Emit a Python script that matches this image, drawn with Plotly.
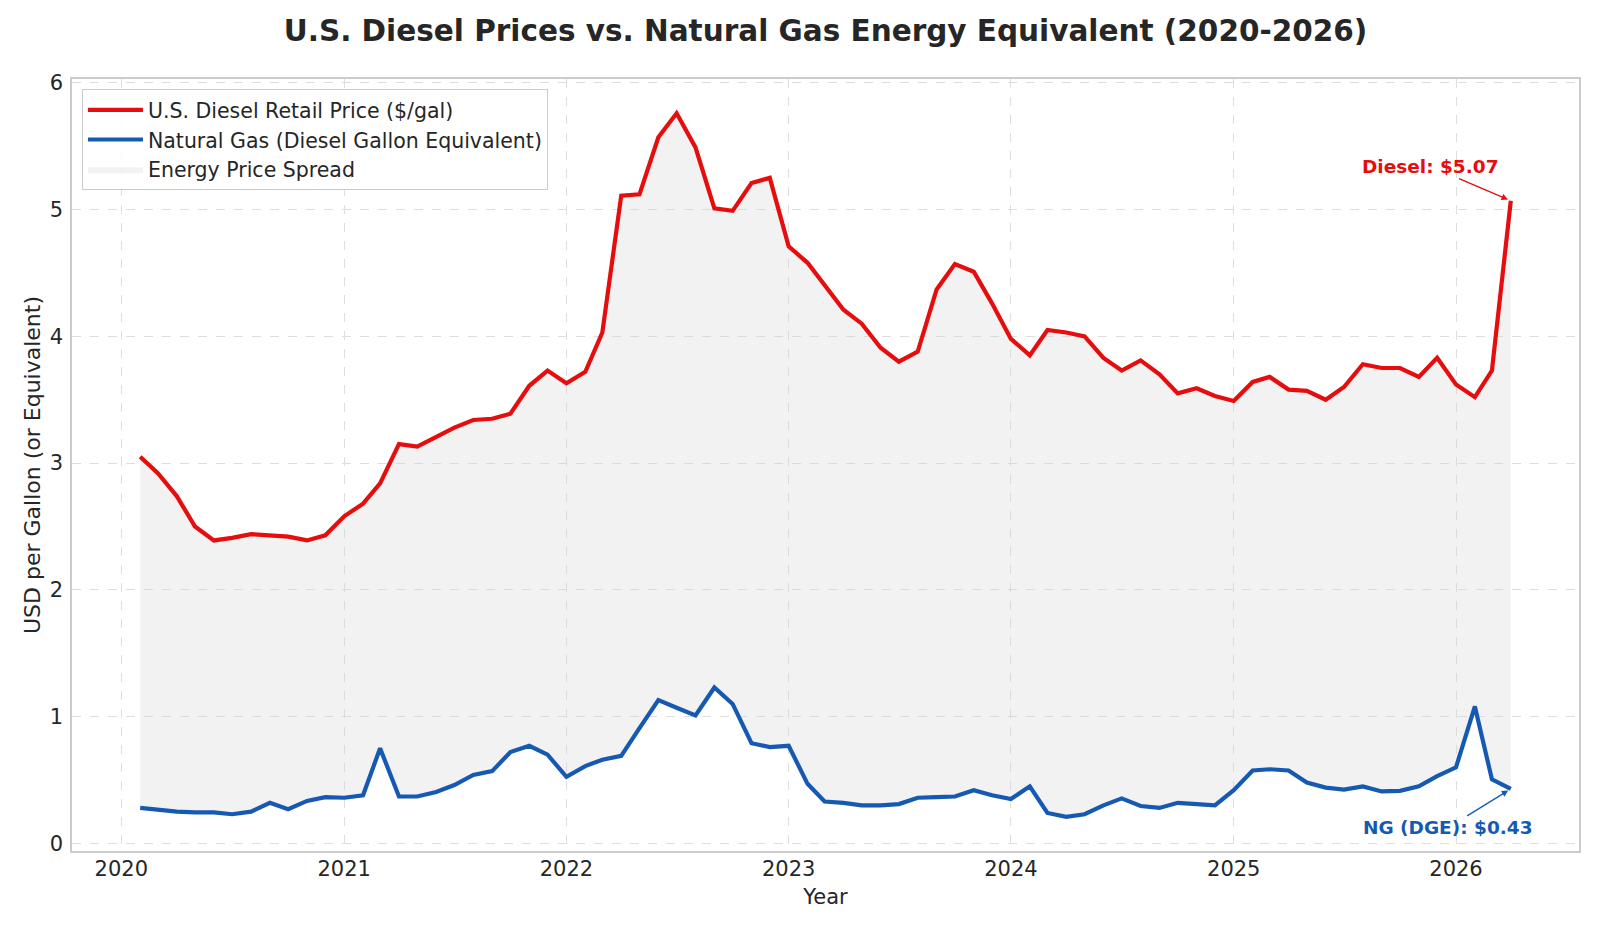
import plotly.graph_objects as go

# Monthly observations (first of month), Feb 2020 - Apr 2026
months = [
    "2020-02", "2020-03", "2020-04", "2020-05", "2020-06", "2020-07", "2020-08", "2020-09", "2020-10", "2020-11", "2020-12",
    "2021-01", "2021-02", "2021-03", "2021-04", "2021-05", "2021-06", "2021-07", "2021-08", "2021-09", "2021-10", "2021-11", "2021-12",
    "2022-01", "2022-02", "2022-03", "2022-04", "2022-05", "2022-06", "2022-07", "2022-08", "2022-09", "2022-10", "2022-11", "2022-12",
    "2023-01", "2023-02", "2023-03", "2023-04", "2023-05", "2023-06", "2023-07", "2023-08", "2023-09", "2023-10", "2023-11", "2023-12",
    "2024-01", "2024-02", "2024-03", "2024-04", "2024-05", "2024-06", "2024-07", "2024-08", "2024-09", "2024-10", "2024-11", "2024-12",
    "2025-01", "2025-02", "2025-03", "2025-04", "2025-05", "2025-06", "2025-07", "2025-08", "2025-09", "2025-10", "2025-11", "2025-12",
    "2026-01", "2026-02", "2026-03", "2026-04",
]

diesel = [
    3.05, 2.92, 2.74, 2.50, 2.39, 2.41, 2.44, 2.43, 2.42, 2.39, 2.43,
    2.58, 2.68, 2.84, 3.15, 3.13, 3.21, 3.28, 3.34, 3.35, 3.39, 3.61, 3.73,
    3.63, 3.72, 4.03, 5.11, 5.12, 5.57, 5.76, 5.49, 5.01, 4.99, 5.21, 5.25,
    4.71, 4.58, 4.41, 4.21, 4.10, 3.91, 3.80, 3.88, 4.37, 4.57, 4.51, 4.26,
    3.98, 3.85, 4.05, 4.03, 4.00, 3.83, 3.73, 3.81, 3.70, 3.55, 3.59, 3.53,
    3.49, 3.64, 3.68, 3.58, 3.57, 3.50, 3.60, 3.78, 3.75, 3.75, 3.68, 3.83,
    3.62, 3.52, 3.73, 5.07,
]

natgas_dge = [
    0.28, 0.265, 0.25, 0.245, 0.245, 0.23, 0.25, 0.32, 0.27, 0.335, 0.365,
    0.36, 0.38, 0.75, 0.37, 0.37, 0.405, 0.46, 0.54, 0.57, 0.72, 0.77, 0.70,
    0.525, 0.61, 0.66, 0.69, 0.91, 1.13, 1.07, 1.01, 1.23, 1.10, 0.79, 0.76,
    0.77, 0.47, 0.33, 0.32, 0.30, 0.30, 0.31, 0.36, 0.365, 0.37, 0.42, 0.38,
    0.35, 0.45, 0.24, 0.21, 0.23, 0.30, 0.355, 0.295, 0.28, 0.32, 0.31, 0.30,
    0.42, 0.575, 0.585, 0.575, 0.48, 0.44, 0.425, 0.45, 0.41, 0.415, 0.45, 0.53,
    0.60, 1.08, 0.505, 0.43,
]

year_ticks = ["2020", "2021", "2022", "2023", "2024", "2025", "2026"]

x = [m + "-01" for m in months]

RED = "#e50d0d"
BLUE = "#1659b3"
FONT = "DejaVu Sans"
TXT = "#262626"

fig = go.Figure()

# base for the fill (invisible)
fig.add_trace(go.Scatter(x=x, y=natgas_dge, mode="lines", line=dict(width=0, color="rgba(0,0,0,0)"),
                         showlegend=False, hoverinfo="skip"))
fig.add_trace(go.Scatter(x=x, y=diesel, mode="lines", line=dict(width=0, color="rgba(0,0,0,0)"),
                         fill="tonexty", fillcolor="rgba(211,211,211,0.3)",
                         name="Energy Price Spread", legendrank=3))
fig.add_trace(go.Scatter(x=x, y=diesel, mode="lines", line=dict(width=4.2, color=RED),
                         name="U.S. Diesel Retail Price ($/gal)", legendrank=1))
fig.add_trace(go.Scatter(x=x, y=natgas_dge, mode="lines", line=dict(width=4.2, color=BLUE),
                         name="Natural Gas (Diesel Gallon Equivalent)", legendrank=2))

fig.add_annotation(x=x[-1], y=diesel[-1], text=f"<b>Diesel: ${diesel[-1]:.2f}</b>",
                   showarrow=True, ax=-80, ay=-34, arrowhead=2, arrowsize=1, arrowwidth=1.3,
                   arrowcolor=RED, standoff=3, font=dict(family=FONT, size=18.5, color=RED))
fig.add_annotation(x=x[-1], y=natgas_dge[-1], text=f"<b>NG (DGE): ${natgas_dge[-1]:.2f}</b>",
                   showarrow=True, ax=-63, ay=39, arrowhead=2, arrowsize=1, arrowwidth=1.3,
                   arrowcolor=BLUE, standoff=3, font=dict(family=FONT, size=18.5, color=BLUE))

fig.update_layout(
    width=1600, height=933,
    margin=dict(l=72, r=21, t=79, b=82),
    paper_bgcolor="white", plot_bgcolor="white",
    font=dict(family=FONT, size=21, color=TXT),
    title=dict(text="U.S. Diesel Prices vs. Natural Gas Energy Equivalent (2020-2026)",
               x=0.5, xref="paper", xanchor="center", y=1 - 31 / 933, yanchor="middle",
               font=dict(family=FONT, size=29.5, color=TXT, weight="bold")),
    legend=dict(x=0.0066, y=0.987, xanchor="left", yanchor="top", itemwidth=55,
                bgcolor="rgba(255,255,255,0.85)", bordercolor="#cccccc", borderwidth=1,
                font=dict(family=FONT, size=20.5, color=TXT), traceorder="normal"),
    showlegend=True,
)

fig.update_xaxes(
    type="date", range=["2019-10-12", "2026-07-22"],
    tickvals=[y + "-01-01" for y in year_ticks], ticktext=year_ticks,
    showgrid=True, gridcolor="#dedede", griddash="dash", gridwidth=1,
    showline=True, mirror=True, linecolor="#cccccc", linewidth=1.5,
    ticks="", zeroline=False, ticklabelstandoff=-2,
    title=dict(text="Year", standoff=9, font=dict(family=FONT, size=21, color=TXT)),
    tickfont=dict(family=FONT, size=21, color=TXT),
)
fig.update_yaxes(
    range=[-0.06, 6.03], tickvals=[0, 1, 2, 3, 4, 5, 6],
    showgrid=True, gridcolor="#dedede", griddash="dash", gridwidth=1,
    showline=True, mirror=True, linecolor="#cccccc", linewidth=1.5,
    ticks="", zeroline=False, ticklabelstandoff=3,
    title=dict(text="USD per Gallon (or Equivalent)", standoff=3, font=dict(family=FONT, size=22, color=TXT)),
    tickfont=dict(family=FONT, size=21, color=TXT),
)

fig.write_html("out.html", config={"displayModeBar": False},
               post_script="document.body.style.margin='0';document.body.style.overflow='hidden';")
